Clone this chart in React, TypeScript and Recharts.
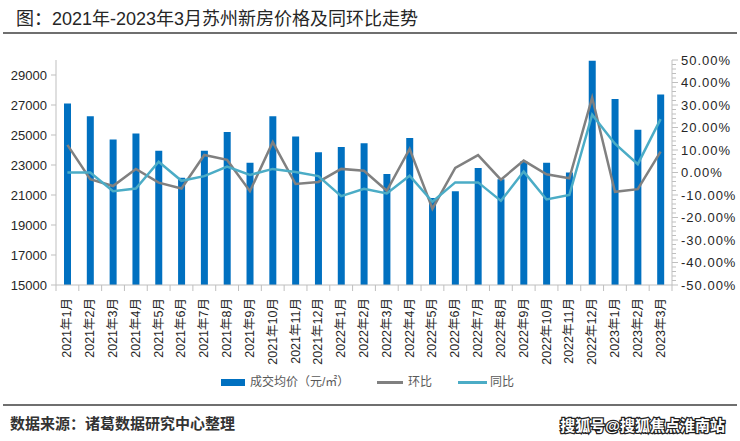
import React from 'react';
import { ComposedChart, Bar, Line, XAxis, YAxis } from 'recharts';

const months = [
  '2021年1月', '2021年2月', '2021年3月', '2021年4月', '2021年5月', '2021年6月',
  '2021年7月', '2021年8月', '2021年9月', '2021年10月', '2021年11月', '2021年12月',
  '2022年1月', '2022年2月', '2022年3月', '2022年4月', '2022年5月', '2022年6月',
  '2022年7月', '2022年8月', '2022年9月', '2022年10月', '2022年11月', '2022年12月',
  '2023年1月', '2023年2月', '2023年3月',
];
const avgPrice = [
  27100, 26250, 24700, 25100, 23950, 22150, 23950, 25200, 23150, 26250, 24900, 23850,
  24200, 24450, 22400, 24800, 20800, 21250, 22800, 22050, 23250, 23150, 22500, 29950,
  27400, 25350, 27700,
];
const momChange = [
  12.3, -3.0, -6.0, 1.6, -4.5, -7.1, 7.8, 5.6, -8.3, 13.5, -5.1, -4.2,
  1.6, 0.8, -8.1, 10.5, -16.1, 2.0, 7.7, -3.2, 5.3, -0.8, -2.6, 33.3,
  -8.6, -7.4, 9.3,
];
const yoyChange = [
  0.0, 0.0, -8.3, -7.1, 4.8, -3.7, -1.6, 2.6, -1.1, 1.6, 0.2, -1.6,
  -10.5, -7.2, -9.3, -1.4, -13.0, -4.4, -4.4, -12.6, 0.4, -12.0, -10.0, 25.7,
  12.8, 3.7, 23.7,
];
const leftTicks = [15000, 17000, 19000, 21000, 23000, 25000, 27000, 29000];
const rightMajorTicks = [-50, -40, -30, -20, -10, 0, 10, 20, 30, 40, 50];
const rightMinorOffsets = [0, 2, 4, 6, 8];
const rightTicks = rightMajorTicks.flatMap((t) =>
  t < 50 ? rightMinorOffsets.map((o) => t + o) : [t]
);

const data = months.map((m, i) => ({
  month: m,
  price: avgPrice[i],
  mom: momChange[i],
  yoy: yoyChange[i],
}));

const FONT = '"Liberation Sans", Arial, "Noto Sans CJK SC", sans-serif';
const PLOT_LEFT = 56;
const PLOT_RIGHT = 672;
const HALF_BAND = (PLOT_RIGHT - PLOT_LEFT) / months.length / 2;
const AXIS_COLOR = '#bfbfbf';
const BAR_COLOR = '#0070c0';
const MOM_COLOR = '#808080';
const YOY_COLOR = '#4bacc6';

const XTick = (props: any) => {
  const { x, y, payload, index } = props;
  return (
    <g>
      {index === 0 && (
        <line x1={x - HALF_BAND} x2={x - HALF_BAND} y1={y} y2={y + 6} stroke={AXIS_COLOR} />
      )}
      <line x1={x + HALF_BAND} x2={x + HALF_BAND} y1={y} y2={y + 6} stroke={AXIS_COLOR} />
      <text
        transform={`translate(${x}, ${y + 13}) rotate(-90)`}
        textAnchor="end"
        dominantBaseline="central"
        fontSize={12.5}
        fill="#262626"
        fontFamily={FONT}
      >
        {payload.value}
      </text>
    </g>
  );
};

const LeftTick = (props: any) => {
  const { x, y, payload } = props;
  return (
    <g>
      <line x1={x - 5} x2={x} y1={y} y2={y} stroke={AXIS_COLOR} />
      <text x={x - 9} y={y} textAnchor="end" dominantBaseline="central" fontSize={13} fill="#262626" fontFamily={FONT}>
        {payload.value}
      </text>
    </g>
  );
};

const RightTick = (props: any) => {
  const { x, y, payload } = props;
  const v = payload.value as number;
  const major = v % 10 === 0;
  return (
    <g>
      <line x1={x} x2={x + (major ? 6 : 4)} y1={y} y2={y} stroke={AXIS_COLOR} />
      {major && (
        <text x={x + 9} y={y} textAnchor="start" dominantBaseline="central" fontSize={13} letterSpacing={1} fill="#262626" fontFamily={FONT}>
          {`${v.toFixed(2)}%`}
        </text>
      )}
    </g>
  );
};

export default function App() {
  return (
    <div style={{ position: 'absolute', left: 0, top: 0, width: 740, height: 441, background: '#fff', fontFamily: FONT, overflow: 'hidden' }}>
      <div style={{ position: 'absolute', left: 16, top: 8, fontSize: 18, color: '#262626', whiteSpace: 'nowrap', lineHeight: '22px' }}>
        图：2021年-2023年3月苏州新房价格及同环比走势
      </div>
      <div style={{ position: 'absolute', left: 3, top: 32, width: 734, height: 2, background: '#6f6f6f' }} />
      <div style={{ position: 'absolute', left: 0, top: 0 }}>
        <ComposedChart
          width={740}
          height={441}
          data={data}
          margin={{ top: 60, right: 6, bottom: 76, left: 6 }}
        >
          <XAxis
            dataKey="month"
            interval={0}
            height={80}
            tickSize={0}
            tickMargin={0}
            tickLine={false}
            axisLine={{ stroke: AXIS_COLOR }}
            tick={<XTick />}
          />
          <YAxis
            yAxisId="left"
            orientation="left"
            width={50}
            domain={[15000, 30000]}
            ticks={leftTicks}
            allowDataOverflow
            tickSize={0}
            tickMargin={0}
            tickLine={false}
            axisLine={{ stroke: AXIS_COLOR }}
            tick={<LeftTick />}
          />
          <YAxis
            yAxisId="right"
            orientation="right"
            width={62}
            domain={[-50, 50]}
            ticks={rightTicks}
            interval={0}
            allowDataOverflow
            tickSize={0}
            tickMargin={0}
            tickLine={false}
            axisLine={{ stroke: AXIS_COLOR }}
            tick={<RightTick />}
          />
          <Bar yAxisId="left" dataKey="price" fill={BAR_COLOR} barSize={7} isAnimationActive={false} />
          <Line yAxisId="right" dataKey="mom" stroke={MOM_COLOR} strokeWidth={2.5} dot={false} isAnimationActive={false} />
          <Line yAxisId="right" dataKey="yoy" stroke={YOY_COLOR} strokeWidth={2.5} dot={false} isAnimationActive={false} />
        </ComposedChart>
      </div>
      <div style={{ position: 'absolute', left: 221, top: 379, width: 24, height: 7, background: BAR_COLOR }} />
      <div style={{ position: 'absolute', left: 250, top: 374, fontSize: 12, lineHeight: '16px', color: '#595959', whiteSpace: 'nowrap' }}>
        成交均价（元/㎡）
      </div>
      <div style={{ position: 'absolute', left: 377, top: 381, width: 26, height: 2.5, background: MOM_COLOR }} />
      <div style={{ position: 'absolute', left: 408, top: 374, fontSize: 12, lineHeight: '16px', color: '#595959', whiteSpace: 'nowrap' }}>
        环比
      </div>
      <div style={{ position: 'absolute', left: 458, top: 381, width: 29, height: 2.5, background: YOY_COLOR }} />
      <div style={{ position: 'absolute', left: 490, top: 374, fontSize: 12, lineHeight: '16px', color: '#595959', whiteSpace: 'nowrap' }}>
        同比
      </div>
      <div style={{ position: 'absolute', left: 3, top: 404, width: 734, height: 2, background: '#6f6f6f' }} />
      <div style={{ position: 'absolute', left: 10, top: 413, fontSize: 15, fontWeight: 'bold', lineHeight: '22px', color: '#333', whiteSpace: 'nowrap' }}>
        数据来源：诸葛数据研究中心整理
      </div>
      <svg style={{ position: 'absolute', left: 0, top: 0 }} width={740} height={441}>
        <text
          x={725}
          y={425}
          textAnchor="end"
          dominantBaseline="central"
          fontSize={15}
          fontWeight="bold"
          fill="#fff"
          stroke="#222"
          strokeWidth={2.5}
          paintOrder="stroke"
          fontFamily={FONT}
        >
          搜狐号@搜狐焦点淮南站
        </text>
      </svg>
    </div>
  );
}
